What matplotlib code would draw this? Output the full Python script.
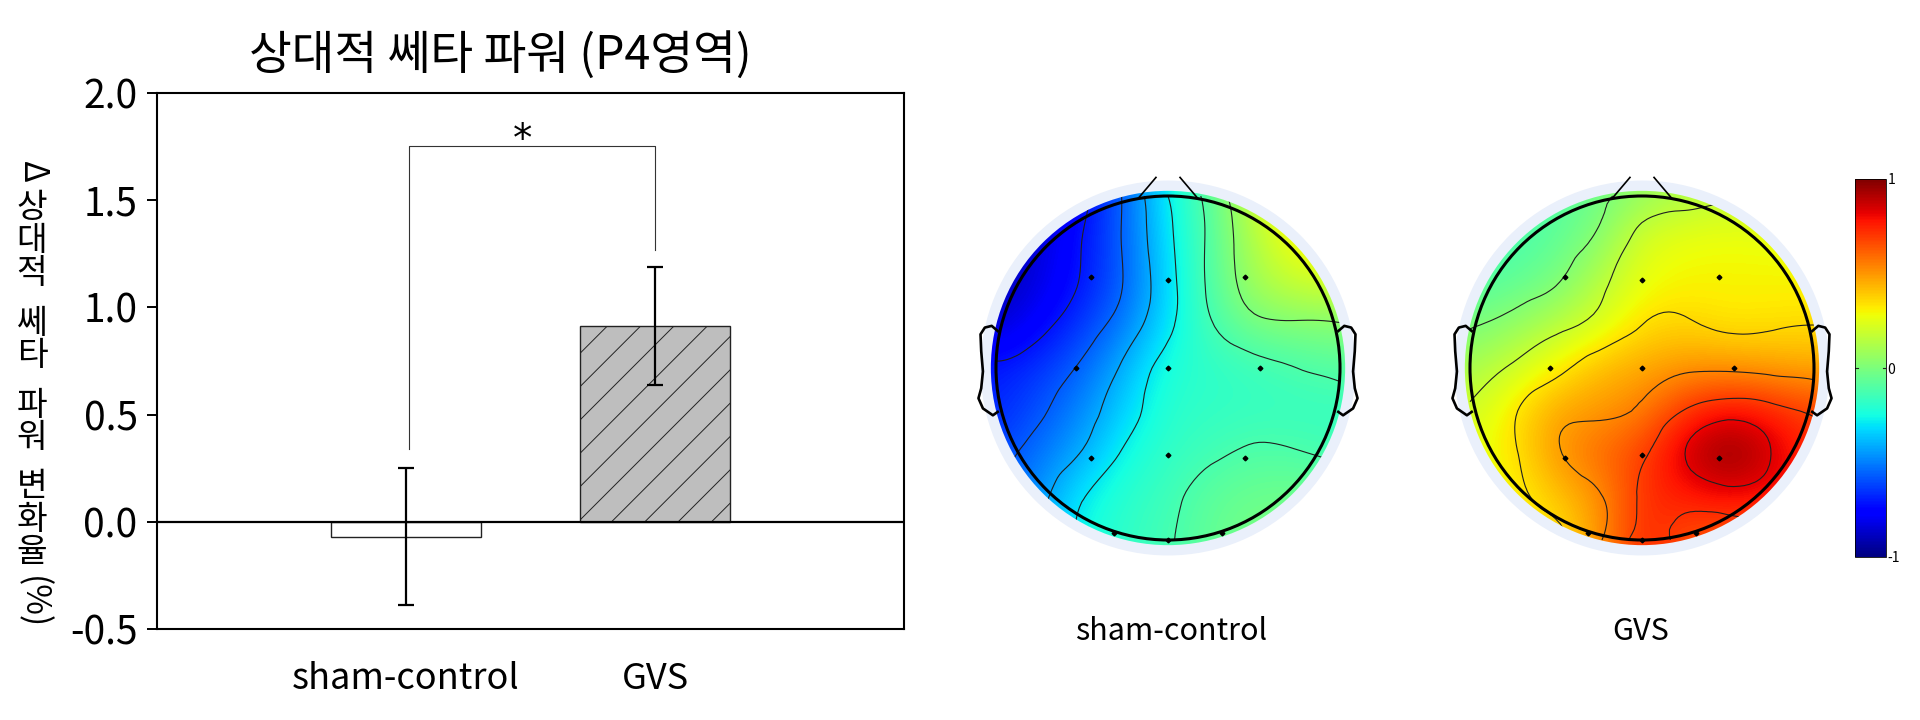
#!/usr/bin/python3
# Bar chart of relative theta power next to two topographic maps.

import matplotlib
matplotlib.use('Agg')
import matplotlib.pyplot as plt
from matplotlib.patches import Circle
from matplotlib.tri import Triangulation, UniformTriRefiner
import numpy as np

plt.rcParams['font.family'] = ['Noto Sans CJK KR', 'DejaVu Sans']
plt.rcParams['axes.unicode_minus'] = False
plt.rcParams['hatch.linewidth'] = 0.7

WIDTH = 1920
HEIGHT = 720
HEAD_PX = 172

TITLE = '상대적 쎄타 파워 (P4영역)'
GROUPS = ['sham-control', 'GVS']
MEANS = [-0.07, 0.915]
ERRORS = [0.32, 0.275]
Y_TICKS = [-0.5, 0.0, 0.5, 1.0, 1.5, 2.0]

GRID_X = [-1, -0.75, -0.5, -0.25, 0, 0.25, 0.5, 0.75, 1]
GRID_Y = [1, 0.75, 0.5, 0.25, 0, -0.25, -0.5, -0.75, -1]

# Values, rows run from the nose to the back of the head.
SHAM_MAP = [
  [-0.92, -0.88, -0.75, -0.55, -0.27, -0.07, 0.20, 0.38, 0.40],
  [-0.90, -0.84, -0.72, -0.55, -0.30, -0.09, 0.14, 0.30, 0.35],
  [-0.90, -0.83, -0.71, -0.56, -0.32, -0.09, 0.10, 0.20, 0.22],
  [-0.86, -0.76, -0.64, -0.50, -0.30, -0.13, -0.01, 0.01, 0.02],
  [-0.70, -0.65, -0.55, -0.39, -0.22, -0.19, -0.16, -0.12, -0.09],
  [-0.68, -0.59, -0.48, -0.33, -0.20, -0.18, -0.17, -0.17, -0.17],
  [-0.62, -0.52, -0.41, -0.25, -0.18, -0.14, -0.10, -0.11, -0.14],
  [-0.55, -0.46, -0.28, -0.20, -0.15, -0.07, -0.04, -0.03, -0.05],
  [-0.45, -0.38, -0.25, -0.18, -0.13, -0.06, -0.01, 0.00, 0.00],
]
GVS_MAP = [
  [-0.15, -0.13, -0.10, -0.03, 0.06, 0.12, 0.16, 0.17, 0.17],
  [-0.16, -0.12, -0.07, 0.03, 0.23, 0.27, 0.28, 0.27, 0.26],
  [-0.10, -0.07, -0.01, 0.14, 0.27, 0.30, 0.30, 0.30, 0.30],
  [-0.01, 0.05, 0.14, 0.23, 0.35, 0.37, 0.33, 0.34, 0.35],
  [0.10, 0.20, 0.31, 0.42, 0.46, 0.50, 0.50, 0.48, 0.46],
  [0.20, 0.33, 0.47, 0.49, 0.55, 0.71, 0.80, 0.75, 0.68],
  [0.25, 0.33, 0.50, 0.60, 0.68, 0.87, 1.00, 0.87, 0.72],
  [0.22, 0.30, 0.40, 0.50, 0.72, 0.76, 0.80, 0.78, 0.72],
  [0.20, 0.25, 0.33, 0.50, 0.75, 0.65, 0.62, 0.60, 0.60],
]
SHAM_LEVELS = [-0.72, -0.57, -0.42, -0.27, -0.12, 0.03]
GVS_LEVELS = [0.0, 0.18, 0.35, 0.52, 0.70, 0.87]

ELECTRODE_X = [-0.445, 0, 0.445, -0.535, 0, 0.535, -0.445, 0, 0.445, -0.315, 0, 0.315]
ELECTRODE_Y = [0.53, 0.51, 0.53, 0, 0, 0, -0.525, -0.505, -0.525, -0.96, -1.0, -0.96]
EAR_X = [-0.99, -1.025, -1.065, -1.09, -1.086, -1.076, -1.086, -1.102, -1.076, -1.018, -0.99]
EAR_Y = [0.215, 0.245, 0.235, 0.196, 0.098, -0.02, -0.118, -0.176, -0.235, -0.275, -0.255]
NOSE_X = [-0.17, -0.07]
NOSE_Y = [0.99, 1.108]

def px_axes(fig, left, top, right, bottom):
  return fig.add_axes([left / WIDTH, 1 - bottom / HEIGHT, (right - left) / WIDTH, (bottom - top) / HEIGHT])

def bar_chart(fig):
  ax = px_axes(fig, 157, 93, 904, 629)
  x = np.arange(len(GROUPS))
  ax.bar(x, MEANS, width=0.6, color=['white', '#bebebe'], edgecolor='#222222',
         linewidth=1.0, hatch=['', '/'], zorder=2)
  ax.errorbar(x, MEANS, yerr=ERRORS, fmt='none', ecolor='black', elinewidth=1.6,
              capsize=6, capthick=1.6, zorder=3)
  ax.axhline(0, color='black', linewidth=1.6, zorder=4)
  ax.plot([0.014, 0.014, 1, 1], [0.34, 1.753, 1.753, 1.27], color='#333333', linewidth=0.8)
  ax.text(0.47, 1.78, '*', ha='center', va='center', fontsize=28, family='DejaVu Sans')
  ax.set_xlim(-1, 2)
  ax.set_ylim(-0.5, 2.0)
  ax.set_yticks(Y_TICKS, ['%.1f' % t for t in Y_TICKS], fontsize=28)
  ax.set_xticks(x, GROUPS, fontsize=26)
  ax.tick_params(axis='y', length=7, width=1.4, pad=7)
  ax.tick_params(axis='x', length=0, pad=23)
  for spine in ax.spines.values():
    spine.set_linewidth(1.5)
  fig.text(500 / WIDTH, 1 - 56 / HEIGHT, TITLE, ha='center', va='center', fontsize=33.5)

def vertical_label(fig):
  # The label is set vertically: syllables stay upright, the rest is turned.
  fs = 24
  x = 32 / WIDTH
  fig.text(x, 1 - 172 / HEIGHT, 'Δ', ha='center', va='center', rotation=-90, fontsize=fs)
  y = 208
  for word in ['상대적', '쎄타', '파워', '변화율']:
    for ch in word:
      fig.text(x, 1 - y / HEIGHT, ch, ha='center', va='center', fontsize=fs)
      y += 33
    y += 16
  fig.text(x, 1 - 603 / HEIGHT, '(%)', ha='center', va='center', rotation=-90, fontsize=fs)

def head_map(fig, cx, label_x, values, levels, label):
  half = 232
  cy = 368
  ax = px_axes(fig, cx - half, cy - half, cx + half, cy + half)
  lim = half / HEAD_PX
  ax.axis('off')
  ax.add_patch(Circle((0, 0), 1.09, facecolor='#eaf0fb', edgecolor='none', zorder=1))
  im = ax.imshow(values, cmap='jet', vmin=-1, vmax=1, interpolation='bicubic',
                 extent=(-1.125, 1.125, -1.125, 1.125), zorder=2)
  clip = Circle((0, 0), 1.03, transform=ax.transData)
  im.set_clip_path(clip)
  ax.set_xlim(-lim, lim)
  ax.set_ylim(-lim, lim)
  # Same smooth surface as the image, so the contours do not come out as polygons.
  xx, yy = np.meshgrid(GRID_X, GRID_Y)
  tri = Triangulation(xx.ravel(), yy.ravel())
  fine_tri, fine_z = UniformTriRefiner(tri).refine_field(np.array(values).ravel(), subdiv=3)
  cs = ax.tricontour(fine_tri, fine_z, levels=levels, colors='#202020', linewidths=0.8,
                     linestyles='solid', zorder=3)
  cs.set_clip_path(clip)
  ax.add_patch(Circle((0, 0), 1.0, facecolor='none', edgecolor='black', linewidth=2.2, zorder=4))
  for side in (1, -1):
    ax.plot(side * np.array(EAR_X), EAR_Y, color='black', linewidth=1.9, zorder=4)
    ax.plot(side * np.array(NOSE_X), NOSE_Y, color='black', linewidth=1.2, zorder=4)
  ax.plot(ELECTRODE_X, ELECTRODE_Y, linestyle='none', marker='D', markersize=2.4, color='black', zorder=5)
  fig.text(label_x / WIDTH, 1 - 632 / HEIGHT, label, ha='center', va='center', fontsize=22)
  return im

def color_bar(fig, im):
  cax = px_axes(fig, 1855, 179, 1886, 557)
  bar = fig.colorbar(im, cax=cax)
  bar.set_ticks([-1, 0, 1], labels=['-1', '0', '1'])
  bar.ax.tick_params(length=0, labelsize=10, pad=1)
  bar.outline.set_linewidth(0.6)
  cax.plot([0, 0.1], [0, 0], color='#202020', linewidth=0.8, transform=cax.get_yaxis_transform())
  cax.plot([0.9, 1], [0, 0], color='#202020', linewidth=0.8, transform=cax.get_yaxis_transform())

def main():
  fig = plt.figure(figsize=(WIDTH / 100, HEIGHT / 100), dpi=100)
  bar_chart(fig)
  vertical_label(fig)
  head_map(fig, 1168, 1171, SHAM_MAP, SHAM_LEVELS, GROUPS[0])
  im = head_map(fig, 1642, 1641, GVS_MAP, GVS_LEVELS, GROUPS[1])
  color_bar(fig, im)
  fig.savefig('out.png', dpi=100)

if __name__ == '__main__':
  main()
